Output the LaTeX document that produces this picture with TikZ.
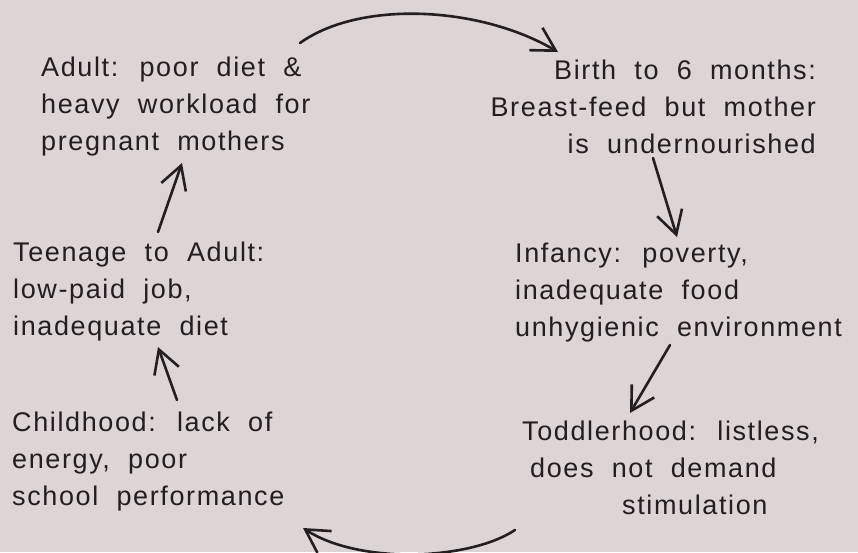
\documentclass[tikz,border=0pt]{standalone}
\usepackage{fontspec}
\setmainfont{Liberation Sans}[LetterSpace=6,WordSpace=2.0]
\usetikzlibrary{arrows.meta,calc}
\definecolor{bgc}{HTML}{DCD4D5}
\definecolor{ink}{HTML}{231E20}
\tikzset{
  txt/.style={inner sep=0pt, text=ink, font=\fontsize{27}{37}\selectfont},
  arr/.style={draw=ink, line width=2.6pt, line cap=round,
    -{Straight Barb[length=23pt,width=26pt,line width=2.6pt]}},
}
\begin{document}
\begin{tikzpicture}[x=1pt,y=-1pt]
\fill[bgc] (0,0) rectangle (858,552);
\useasboundingbox (0,0) rectangle (858,552);

% base anchors of multi-line nodes sit on the last line
\node[txt, align=left, anchor=base west] (adult) at (41,150)
  {Adult: poor diet \&\\heavy workload for\\pregnant mothers};
\node[txt, align=right, anchor=base east] (birth) at (816,153)
  {Birth to 6 months:\\Breast-feed but mother\\is undernourished};
\node[txt, align=left, anchor=base west] (teen) at (13,335)
  {Teenage to Adult:\\low-paid job,\\inadequate diet};
\node[txt, align=left, anchor=base west] (infancy) at (515,336)
  {Infancy: poverty,\\inadequate food\\unhygienic environment};
\node[txt, align=left, anchor=base west] (child) at (12,505)
  {Childhood: lack of\\energy, poor\\school performance};
\node[txt, align=left, anchor=base west] (toddler) at (522,514)
  {Toddlerhood: listless,\\\hspace*{8pt}does not demand\\\hspace*{100pt}stimulation};

\draw[arr] ([shift={(259,-107)}]adult.base west) .. controls (360,0) and (480,6) .. ([shift={(-258,-101)}]birth.base east);
\draw[arr] ([shift={(-163,5)}]birth.base east) -- ([shift={(162,-99)}]infancy.base west);
\draw[arr] ([shift={(155,9)}]infancy.base west) -- ([shift={(108,-101)}]toddler.base west);
\draw[arr] ([shift={(-7,16)}]toddler.base west) .. controls (470,560) and (360,565) .. ([shift={(291,23)}]child.base west);
\draw[arr] ([shift={(165,-105)}]child.base west) -- ([shift={(145,12)}]teen.base west);
\draw[arr] ([shift={(145,-103)}]teen.base west) -- ([shift={(141,13)}]adult.base west);
\end{tikzpicture}
\end{document}
